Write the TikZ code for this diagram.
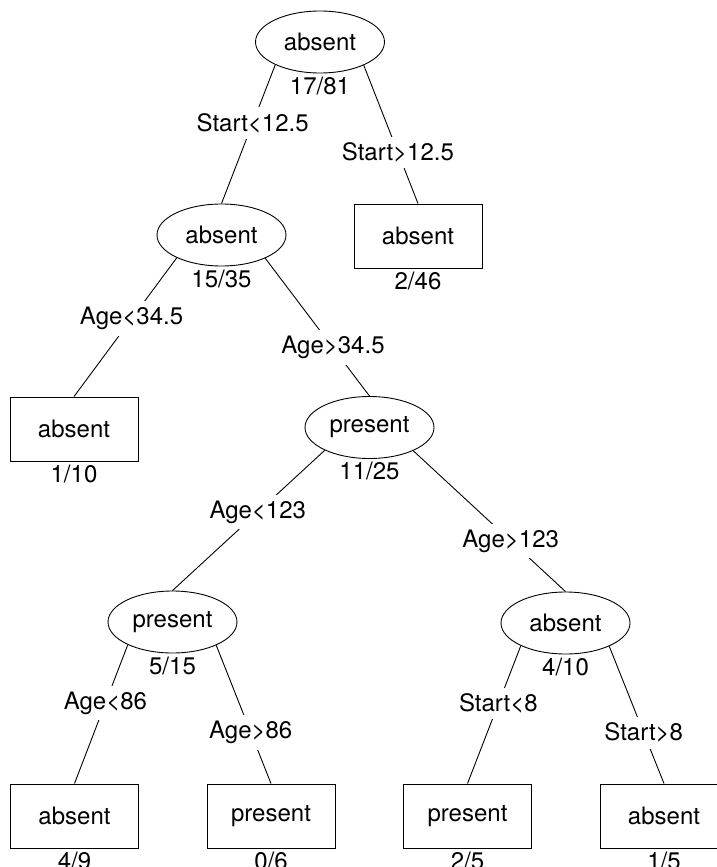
\documentclass[tikz,border=0pt]{standalone}
\usepackage{fontspec}
\setmainfont{TeX Gyre Heros}
\usetikzlibrary{shapes.geometric}
\begin{document}
\begin{tikzpicture}[x=1pt,y=-1pt,line width=0.9pt,
  font=\fontsize{24}{28}\selectfont,
  splitnode/.style={draw,ellipse,minimum width=129pt,minimum height=62pt,inner sep=0pt},
  leafnode/.style={draw,rectangle,minimum width=128pt,minimum height=64pt,inner sep=0pt},
  cond/.style={fill=white,inner sep=6pt},
  cnt/.style={anchor=north,inner sep=0pt,yshift=-3pt}]
\useasboundingbox (0,0) rectangle (717,867);
% split nodes
\node[splitnode] (root) at (320,42) {absent};
\node[splitnode] (n2) at (221.5,235) {absent};
\node[splitnode] (n3) at (369.5,427.5) {present};
\node[splitnode] (n4) at (172.5,622) {present};
\node[splitnode] (n5) at (565.5,623) {absent};
% leaves
\node[leafnode] (l1) at (418,236) {absent};
\node[leafnode] (l2) at (74,429) {absent};
\node[leafnode] (l3) at (74.5,816) {absent};
\node[leafnode] (l4) at (271,816) {present};
\node[leafnode] (l5) at (467.5,816) {present};
\node[leafnode] (l6) at (664,816) {absent};
% edges
\draw (root.207.5) -- node[cond,pos=.42] (e1) {Start<12.5} (n2.north);
\draw (root.332.5) -- node[cond,pos=.63] (e2) {Start>12.5} (l1.north);
\draw (n2.207.5) -- node[cond,pos=.44] (e3) {Age<34.5} (l2.north);
\draw (n2.332.5) -- node[cond,pos=.65] (e4) {Age>34.5} (n3.north);
\draw (n3.207.5) -- node[cond,pos=.44] (e5) {Age<123} (n4.north);
\draw (n3.332.5) -- node[cond,pos=.64] (e6) {Age>123} (n5.north);
\draw (n4.207.5) -- node[cond,pos=.42] (e7) {Age<86} (l3.north);
\draw (n4.332.5) -- node[cond,pos=.63] (e8) {Age>86} (l4.north);
\draw (n5.207.5) -- node[cond,pos=.42] (e9) {Start<8} (l5.north);
\draw (n5.332.5) -- node[cond,pos=.63] (e10) {Start>8} (l6.north);
% counts
\node[cnt] (c1) at (root.south) {17/81};
\node[cnt] (c2) at (n2.south) {15/35};
\node[cnt] (c3) at (n3.south) {11/25};
\node[cnt] (c4) at (n4.south) {5/15};
\node[cnt] (c5) at (n5.south) {4/10};
\node[cnt] (c6) at (l1.south) {2/46};
\node[cnt] (c7) at (l2.south) {1/10};
\node[cnt] (c8) at (l3.south) {4/9};
\node[cnt] (c9) at (l4.south) {0/6};
\node[cnt] (c10) at (l5.south) {2/5};
\node[cnt] (c11) at (l6.south) {1/5};
\end{tikzpicture}
\end{document}
